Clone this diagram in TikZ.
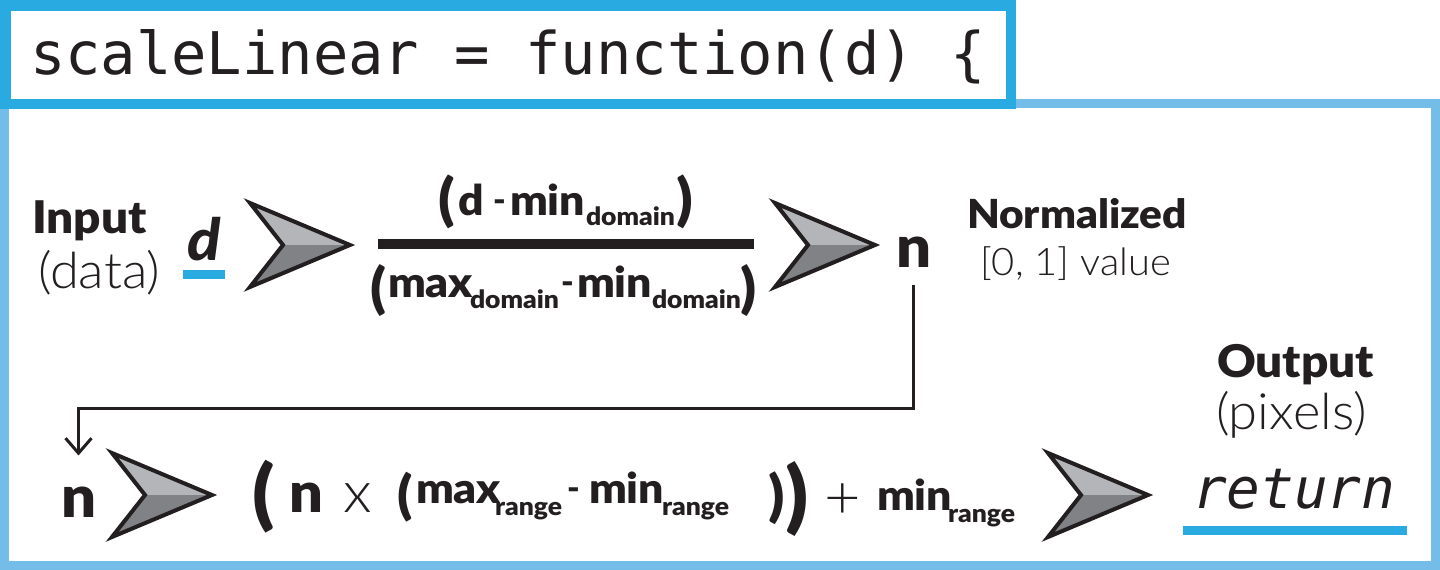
\documentclass[tikz,border=0pt]{standalone}
\usepackage{fontspec}
\usepackage{graphicx}
\usetikzlibrary{arrows.meta}
\setmainfont{Lato}
\IfFontExistsTF{Lato Black}{\newfontfamily\hvyfont{Lato Black}[FakeStretch=1.06]}{\newcommand\hvyfont{\bfseries}}
\IfFontExistsTF{Lato Light}{\newfontfamily\lightfont{Lato Light}[FakeStretch=1.05]}{\newcommand\lightfont{\mdseries}}
\newfontfamily\codefont{DejaVu Sans Mono}
\newcommand\setfs[1]{\fontsize{#1}{#1}\selectfont}
\definecolor{ink}{HTML}{231F20}
\definecolor{dblue}{HTML}{29ABE2}
\definecolor{lblue}{HTML}{74BDE8}
\definecolor{agl}{HTML}{B3B5B8}
\definecolor{agd}{HTML}{808285}
\tikzset{
  txt/.style={inner sep=0pt, outer sep=0pt, text=ink, anchor=base west},
  mainf/.style={txt, font=\hvyfont\setfs{42}},
  subf/.style={txt, font=\hvyfont\setfs{25}},
  hyph/.style={txt, font=\hvyfont\setfs{32}},
  bign/.style={txt, font=\hvyfont\setfs{58}},
  headf/.style={txt, font=\hvyfont\setfs{45}},
  lightf/.style={txt, font=\lightfont\setfs{50}},
  parenf/.style={inner sep=0pt, outer sep=0pt, text=ink, anchor=south west, font=\hvyfont\setfs{40}},
  conn/.style={draw=ink, line width=3pt, -{Straight Barb[length=15pt, width=26pt]}},
  garrow/.pic={
    \fill[agl] (0,-42) -- (100,0) -- (33,0) -- cycle;
    \fill[agd] (0,42) -- (100,0) -- (33,0) -- cycle;
    \draw[ink, line width=4pt, line join=miter, miter limit=10] (0,-42) -- (100,0) -- (0,42) -- (33,0) -- cycle;
  }
}
\begin{document}
\begin{tikzpicture}[x=1pt,y=-1pt]
\useasboundingbox (0,0) rectangle (1440,570);
\fill[white] (0,0) rectangle (1440,570);
% frames
\draw[lblue, line width=9pt] (4.5,103.5) rectangle (1435.5,565.5);
\draw[dblue, line width=10.5pt, fill=white] (5.25,5.25) rectangle (1010.75,103.75);
\node[txt, font=\codefont\setfs{58.8}] (code) at (30,74) {scaleLinear = function(d) \{};
% row 1
\node[headf] (input) at (32,233) {Input};
\node[lightf] (data) at (38,288) {(data)};
\node[txt, font=\hvyfont\itshape\setfs{58}] (dvar) at (187,260) {d};
\fill[dblue] (183,270) rectangle (225,279);
\pic (arA) at (250,245) {garrow};
% numerator
\node[parenf] (numL) at (438,229) {\resizebox*{!}{54pt}{(}};
\node[mainf] (numd) at (458,215) {d};
\node[hyph] (numh) at (493,211) {-};
\node[mainf] (numt) at (510,215) {min};
\node[subf] (nums) at (586,225) {domain};
\node[parenf] (numR) at (676,229) {\resizebox*{!}{54pt}{)}};
\fill[ink] (378,239) rectangle (754,249);
% denominator
\node[parenf] (denL) at (370,317) {\resizebox*{!}{52pt}{(}};
\node[mainf] (denmax) at (388,297) {max};
\node[subf] (dens1) at (470,308) {domain};
\node[hyph] (denm) at (561,293) {-};
\node[mainf] (denmin) at (577,297) {min};
\node[subf] (dens2) at (652,308) {domain};
\node[parenf] (denR) at (740,317) {\resizebox*{!}{52pt}{)}};
\pic (arB) at (775,245) {garrow};
\node[bign] (ntop) at (896,267) {n};
\node[txt, font=\hvyfont\setfs{40}] (norm) at (967,228) {Normalized};
\node[txt, font=\lightfont\setfs{38}] (unit) at (980,275) {[0, 1] value};
% row 2
\node[bign] (nbot) at (61,517) {n};
\coordinate (turn) at (500,408);
\draw[conn, shorten <=18pt, shorten >=31pt] (ntop.south) |- (turn) -| (nbot.north);
\pic (arC) at (112,495) {garrow};
\node[parenf] (bL1) at (252,533) {\resizebox*{!}{73pt}{(}};
\node[txt, font=\hvyfont\setfs{56}] (n2) at (289,512) {n};
\node[txt, font=\lightfont\setfs{58}] (times) at (343,512) {x};
\node[parenf] (bL2) at (397,522) {\resizebox*{!}{50pt}{(}};
\node[mainf] (rmax) at (416,503) {max};
\node[subf] (rs1) at (495,515) {range};
\node[hyph] (rm) at (567,499) {-};
\node[mainf] (rmin) at (589,503) {min};
\node[subf] (rs2) at (662,515) {range};
\node[parenf] (bR1) at (768,525) {\resizebox*{!}{53pt}{)}};
\node[parenf] (bR2) at (785,537) {\resizebox*{!}{75pt}{)}};
\node[txt, font=\lightfont\setfs{60}] (plus) at (824,518) {+};
\node[mainf] (fmin) at (877,510) {min};
\node[subf] (fs) at (948,522) {range};
\pic (arD) at (1048,495) {garrow};
\node[headf] (out) at (1217,377) {Output};
\node[txt, font=\lightfont\setfs{50}] (pix) at (1216,429) {(pixels)};
\node[txt, font=\codefont\itshape\setfs{56}] (ret) at (1193,508) {return};
\fill[dblue] (1183,526) rectangle (1407,535);
\end{tikzpicture}
\end{document}
